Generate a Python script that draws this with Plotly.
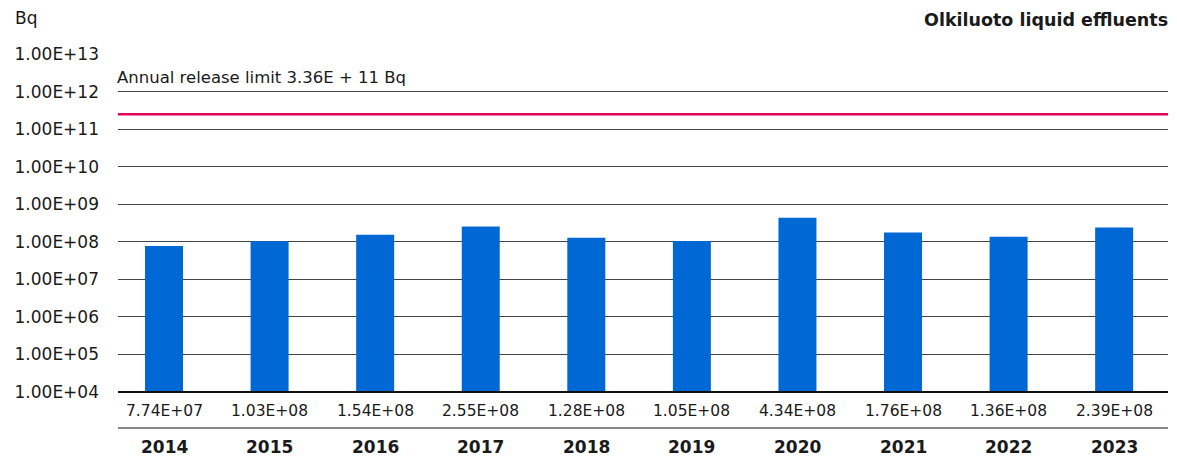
import plotly.graph_objects as go

years = ["2014", "2015", "2016", "2017", "2018", "2019", "2020", "2021", "2022", "2023"]
values = [7.74e7, 1.03e8, 1.54e8, 2.55e8, 1.28e8, 1.05e8, 4.34e8, 1.76e8, 1.36e8, 2.39e8]
value_labels = ["7.74E+07", "1.03E+08", "1.54E+08", "2.55E+08", "1.28E+08",
                "1.05E+08", "4.34E+08", "1.76E+08", "1.36E+08", "2.39E+08"]
tick_vals = [1e4, 1e5, 1e6, 1e7, 1e8, 1e9, 1e10, 1e11, 1e12, 1e13]
tick_text = ["1.00E+04", "1.00E+05", "1.00E+06", "1.00E+07", "1.00E+08",
             "1.00E+09", "1.00E+10", "1.00E+11", "1.00E+12", "1.00E+13"]
limit_value = 2.5e11
limit_label = "Annual release limit 3.36E + 11 Bq"
title = "Olkiluoto liquid effluents"
unit = "Bq"

FONT = "DejaVu Sans"
TXT = "#1a1a1a"

fig = go.Figure()
fig.add_trace(go.Bar(x=years, y=values, marker_color="#0068D4", width=0.36,
                     marker_line_width=0, hoverinfo="skip"))

fig.add_shape(type="line", xref="paper", x0=0, x1=1, yref="y", y0=limit_value, y1=limit_value,
              line=dict(color="#E2005F", width=2.5))
fig.add_shape(type="line", xref="paper", x0=0, x1=1, yref="paper", y0=0, y1=0,
              line=dict(color="#111111", width=2))
fig.add_shape(type="line", xref="paper", x0=0, x1=1, yref="paper", y0=-0.1065, y1=-0.1065,
              line=dict(color="#111111", width=1))

for i, (yr, lab) in enumerate(zip(years, value_labels)):
    fig.add_annotation(x=i, y=0, xref="x", yref="paper", text=lab, showarrow=False,
                       yanchor="middle", yshift=-19, font=dict(family=FONT, size=15.5, color=TXT))
    fig.add_annotation(x=i, y=0, xref="x", yref="paper", text="<b>" + yr + "</b>", showarrow=False,
                       yanchor="middle", yshift=-55, font=dict(family=FONT, size=17, color=TXT))

fig.add_annotation(x=0, y=(392 - 77) / 338, xref="paper", yref="paper", text=limit_label,
                   showarrow=False, xanchor="left", yanchor="middle", xshift=-3,
                   font=dict(family=FONT, size=16.5, color=TXT))
fig.add_annotation(x=1, y=(392 - 20) / 338, xref="paper", yref="paper", text="<b>" + title + "</b>",
                   showarrow=False, xanchor="right", yanchor="middle", xshift=2,
                   font=dict(family=FONT, size=17.5, color=TXT))
fig.add_annotation(x=(13 - 118) / 1050, y=(392 - 18) / 338, xref="paper", yref="paper", text=unit,
                   showarrow=False, xanchor="left", yanchor="middle",
                   font=dict(family=FONT, size=17, color=TXT))

fig.update_layout(
    width=1177, height=459,
    margin=dict(l=118, r=9, t=54, b=67),
    plot_bgcolor="white", paper_bgcolor="white",
    showlegend=False,
    font=dict(family=FONT, color=TXT),
)
fig.update_xaxes(type="category", range=[-0.436, 9.51], showticklabels=False,
                 showgrid=False, ticks="", showline=False, zeroline=False)
fig.update_yaxes(type="log", range=[4, 13], tickvals=tick_vals, ticktext=tick_text,
                 showgrid=True, gridcolor="#444444", gridwidth=1, ticks="",
                 ticklabelstandoff=18, showline=False, zeroline=False,
                 tickfont=dict(family=FONT, size=17, color=TXT))

fig.write_html("out.html")
